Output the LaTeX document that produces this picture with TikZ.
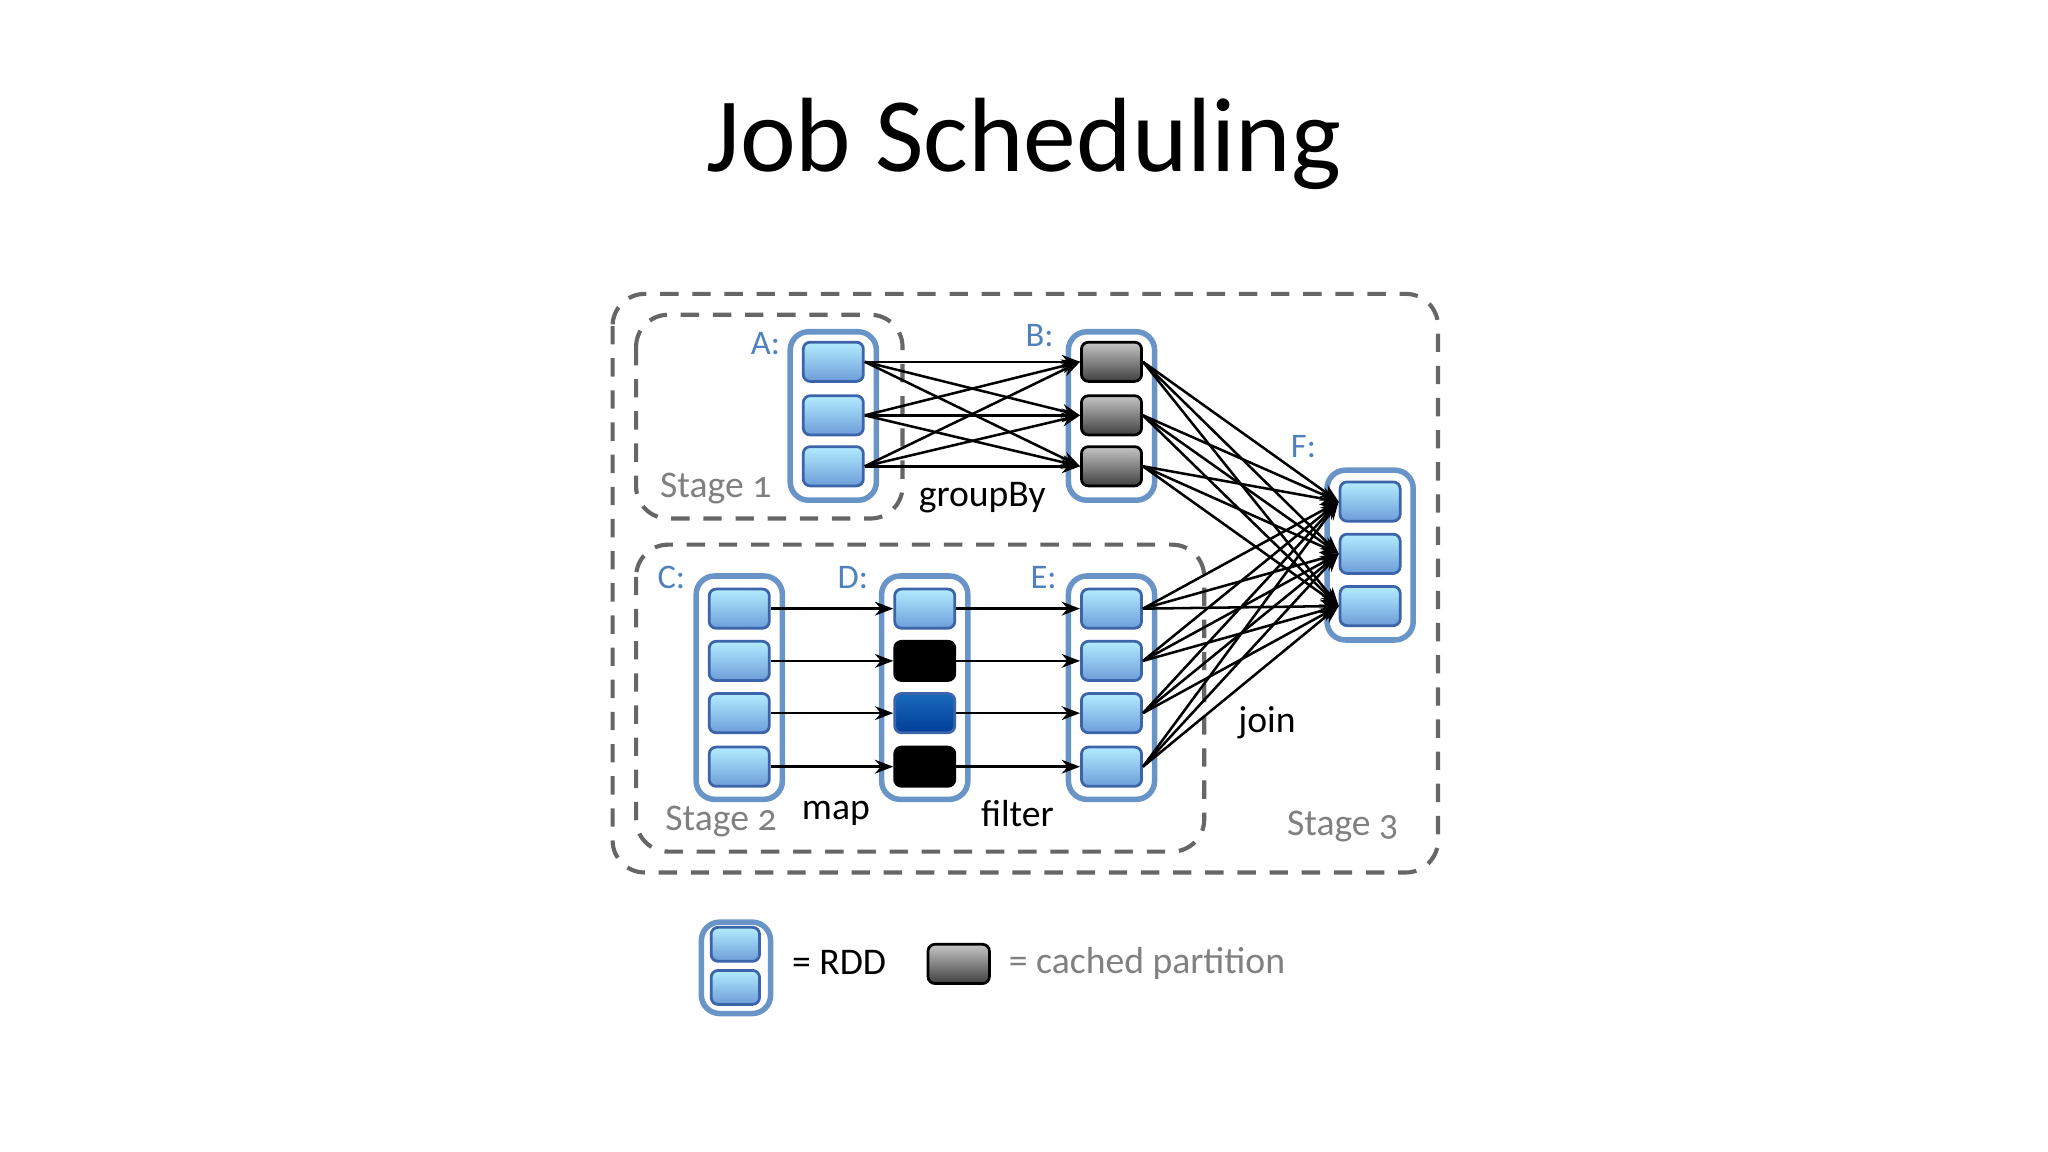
\documentclass[tikz,border=0pt]{standalone}
\usepackage{fontspec}
\setmainfont[Numbers=OldStyle]{Carlito}
\usetikzlibrary{arrows.meta}
\definecolor{lblue}{RGB}{79,129,189}
\definecolor{pborder}{RGB}{60,100,170}
\tikzset{
 px/.style={x=0.01cm,y=-0.01cm},
 rdd/.style={draw=lblue!85,line width=1.2pt,rounded corners=4pt,fill=white},
 part/.style={draw=pborder,line width=0.6pt,rounded corners=1.5pt,minimum width=0.46cm,minimum height=0.30cm,inner sep=0pt,top color=blue!25!cyan!30!white,bottom color=blue!55!cyan!50!white!85!black},
 cached/.style={part,draw=black,top color=gray!45,bottom color=black!75},
 blk/.style={part,draw=black,top color=black,bottom color=black},
 dblue/.style={part,top color=blue!50!cyan!70!black!90,bottom color=blue!60!cyan!60!black},
 stagebox/.style={draw=gray!80!black,dashed,dash pattern=on 4pt off 3pt,line width=0.9pt,rounded corners=7pt},
 lbl/.style={text=lblue,font=\fontsize{7.5pt}{9pt}\selectfont},
 op/.style={font=\fontsize{8.2pt}{10pt}\selectfont},
 stg/.style={text=gray,font=\fontsize{8.2pt}{10pt}\selectfont},
 arr/.style={-{Stealth[length=4pt,width=3pt]},line width=0.55pt}
}
\begin{document}
\begin{tikzpicture}[px]
\useasboundingbox (0,0) rectangle (1568,882);
\node[font=\fontsize{23pt}{27pt}\selectfont] (title) at (784,110) {Job Scheduling};
\draw[stagebox] (469,225) rectangle (1101,668);
\draw[stagebox] (487,241) rectangle (691,397);
\draw[stagebox] (487,417) rectangle (922,652);
% containers
\draw[rdd] (605,254) rectangle (671,383);
\draw[rdd] (818,254) rectangle (884,383);
\draw[rdd] (533,441) rectangle (599,612);
\draw[rdd] (675,441) rectangle (741,612);
\draw[rdd] (818,441) rectangle (884,612);
\draw[rdd] (1016,360) rectangle (1082,490);
% partitions
\foreach \i/\y in {1/277,2/318,3/357}{
 \node[part] (a\i) at (638,\y) {};
 \node[cached] (b\i) at (851,\y) {};
}
\foreach \i/\y in {1/384,2/424,3/464}{\node[part] (f\i) at (1049,\y) {};}
\foreach \i/\y in {1/466,2/506,3/546,4/587}{
 \node[part] (c\i) at (566,\y) {};
 \node[part] (e\i) at (851,\y) {};
}
\node[part] (d1) at (708,466) {};
\node[blk] (d2) at (708,506) {};
\node[dblue] (d3) at (708,546) {};
\node[blk] (d4) at (708,587) {};
% arrows
\foreach \i in {1,2,3}{\foreach \j in {1,2,3}{
 \draw[arr] (a\i.east) -- (b\j.west);
 \draw[arr] (b\i.east) -- (f\j.west);
}}
\foreach \i in {1,2,3,4}{
 \draw[arr] (c\i.east) -- (d\i.west);
 \draw[arr] (d\i.east) -- (e\i.west);
 \foreach \j in {1,2,3}{\draw[arr] (e\i.east) -- (f\j.west);}
}
% labels
\node[lbl] (la) at (586,263) {A:};
\node[lbl] (lb) at (796,257) {B:};
\node[lbl] (lf) at (998,342) {F:};
\node[lbl] (lc) at (514,442) {C:};
\node[lbl] (ld) at (653,442) {D:};
\node[lbl] (le) at (799,442) {E:};
\node[op] (gb) at (752,381) {groupBy};
\node[op] (mp) at (640,623) {map};
\node[op] (fl) at (779,623) {filter};
\node[op] (jn) at (970,553) {join};
\node[stg] (s1) at (548,374) {Stage 1};
\node[stg] (s2) at (552,629) {Stage 2};
\node[stg] (s3) at (1028,633) {Stage 3};
% legend
\draw[rdd] (537,706) rectangle (590,776);
\node[part,minimum width=0.37cm,minimum height=0.26cm] (l1) at (563,723) {};
\node[part,minimum width=0.37cm,minimum height=0.26cm] (l2) at (563,756) {};
\node[op,anchor=west] (lr) at (594,737) {= RDD};
\node[cached,minimum width=0.47cm] (lc1) at (734,738) {};
\node[stg,anchor=west] (lcp) at (760,738) {= cached partition};
\end{tikzpicture}
\end{document}
